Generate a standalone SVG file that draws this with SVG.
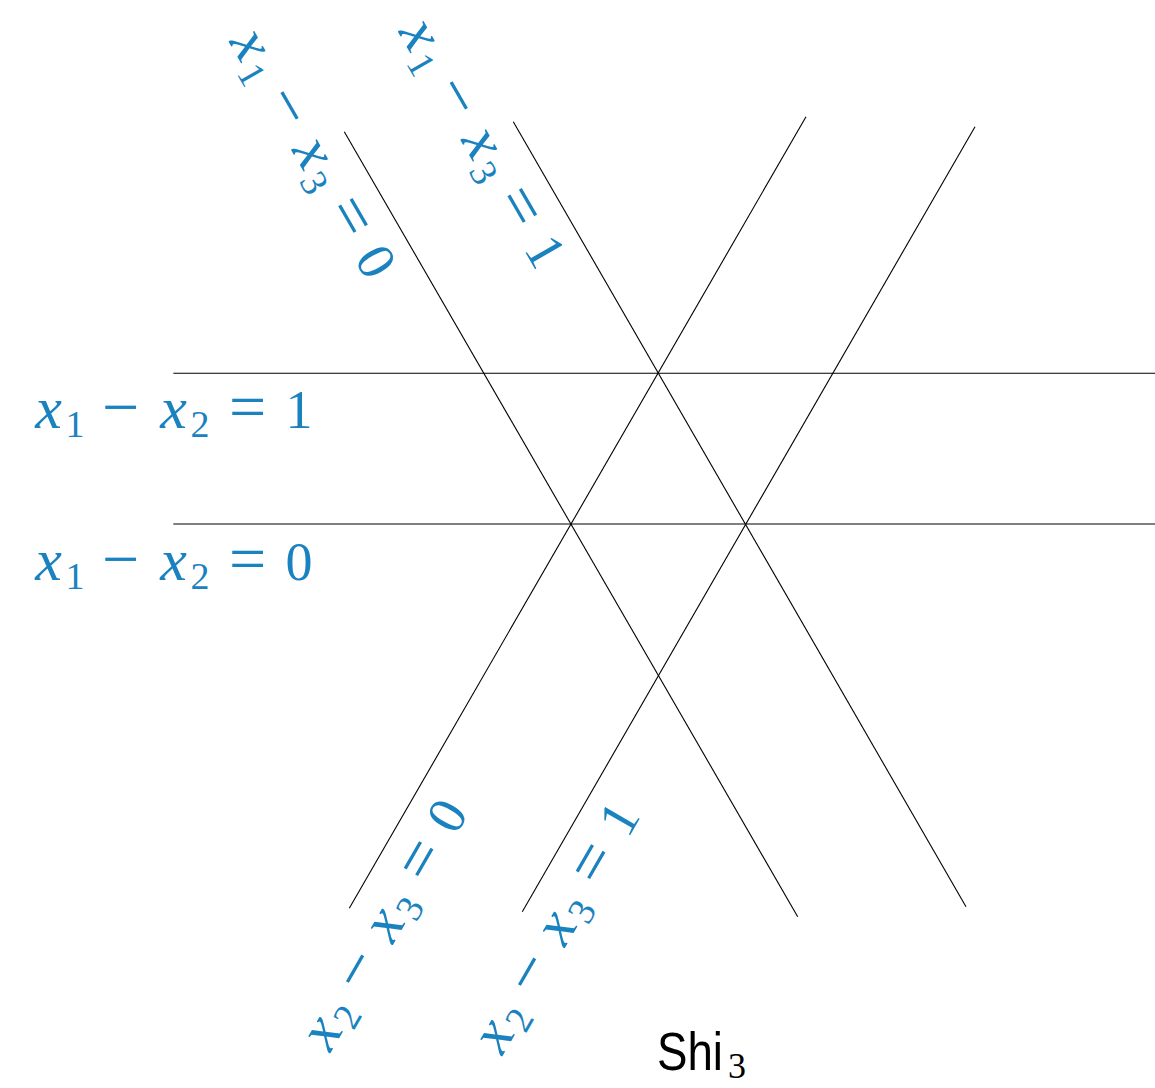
<svg xmlns="http://www.w3.org/2000/svg" width="1155" height="1088" viewBox="0 0 1155 1088">
<style>
.ln{stroke:#000;stroke-width:1.1;fill:none}
.lab{fill:#1b82c0;font-family:"Liberation Serif","DejaVu Serif",serif;font-size:54px;text-anchor:middle}
.v{font-style:italic;font-size:60px}
.s{font-size:38px}
.o{font-size:66px}
.shi{font-family:"Liberation Sans",Arial,sans-serif;font-size:54px;fill:#000}
.sub3{font-family:"Liberation Serif",serif;font-size:36px}
</style>
<g id="connectors">
<line class="ln" x1="173.3" y1="373.3" x2="1155" y2="373.3"/>
<line class="ln" x1="173.3" y1="524" x2="1155" y2="524"/>
<line class="ln" x1="344.3" y1="131.7" x2="797.7" y2="916.7"/>
<line class="ln" x1="513.3" y1="121.7" x2="966" y2="906.7"/>
<line class="ln" x1="806" y1="116.7" x2="349.3" y2="908.3"/>
<line class="ln" x1="975" y1="126.7" x2="522.3" y2="911.7"/>
</g>
<g id="label-x1-x2-1" transform="translate(33,428)">
<text class="lab"><tspan class="v" x="15.5" y="0">x</tspan><tspan class="s" x="42" y="9">1</tspan><tspan class="o" x="87.5" y="1">−</tspan><tspan class="v" x="140.5" y="0">x</tspan><tspan class="s" x="167" y="9">2</tspan><tspan class="o" x="214.5" y="1">=</tspan><tspan x="266" y="0">1</tspan></text>
</g>
<g id="label-x1-x2-0" transform="translate(33,580)">
<text class="lab"><tspan class="v" x="15.5" y="0">x</tspan><tspan class="s" x="42" y="9">1</tspan><tspan class="o" x="87.5" y="1">−</tspan><tspan class="v" x="140.5" y="0">x</tspan><tspan class="s" x="167" y="9">2</tspan><tspan class="o" x="214.5" y="1">=</tspan><tspan x="266" y="0">0</tspan></text>
</g>
<g id="label-x1-x3-0" transform="translate(227.6,40) rotate(60)">
<text class="lab"><tspan class="v" x="15.5" y="0">x</tspan><tspan class="s" x="42" y="9">1</tspan><tspan class="o" x="87.5" y="1">−</tspan><tspan class="v" x="140.5" y="0">x</tspan><tspan class="s" x="167" y="9">3</tspan><tspan class="o" x="214.5" y="1">=</tspan><tspan x="266" y="0">0</tspan></text>
</g>
<g id="label-x1-x3-1" transform="translate(397,30) rotate(60)">
<text class="lab"><tspan class="v" x="15.5" y="0">x</tspan><tspan class="s" x="42" y="9">1</tspan><tspan class="o" x="87.5" y="1">−</tspan><tspan class="v" x="140.5" y="0">x</tspan><tspan class="s" x="167" y="9">3</tspan><tspan class="o" x="214.5" y="1">=</tspan><tspan x="266" y="0">1</tspan></text>
</g>
<g id="label-x2-x3-0" transform="translate(329.4,1055) rotate(-60)">
<text class="lab"><tspan class="v" x="15.5" y="0">x</tspan><tspan class="s" x="42" y="9">2</tspan><tspan class="o" x="87.5" y="1">−</tspan><tspan class="v" x="140.5" y="0">x</tspan><tspan class="s" x="167" y="9">3</tspan><tspan class="o" x="214.5" y="1">=</tspan><tspan x="266" y="0">0</tspan></text>
</g>
<g id="label-x2-x3-1" transform="translate(501.4,1058) rotate(-60)">
<text class="lab"><tspan class="v" x="15.5" y="0">x</tspan><tspan class="s" x="42" y="9">2</tspan><tspan class="o" x="87.5" y="1">−</tspan><tspan class="v" x="140.5" y="0">x</tspan><tspan class="s" x="167" y="9">3</tspan><tspan class="o" x="214.5" y="1">=</tspan><tspan x="266" y="0">1</tspan></text>
</g>
<g id="title">
<text class="shi" x="657" y="1070"><tspan textLength="66" lengthAdjust="spacingAndGlyphs">Shi</tspan><tspan class="sub3" x="728" y="1078">3</tspan></text>
</g>
</svg>
